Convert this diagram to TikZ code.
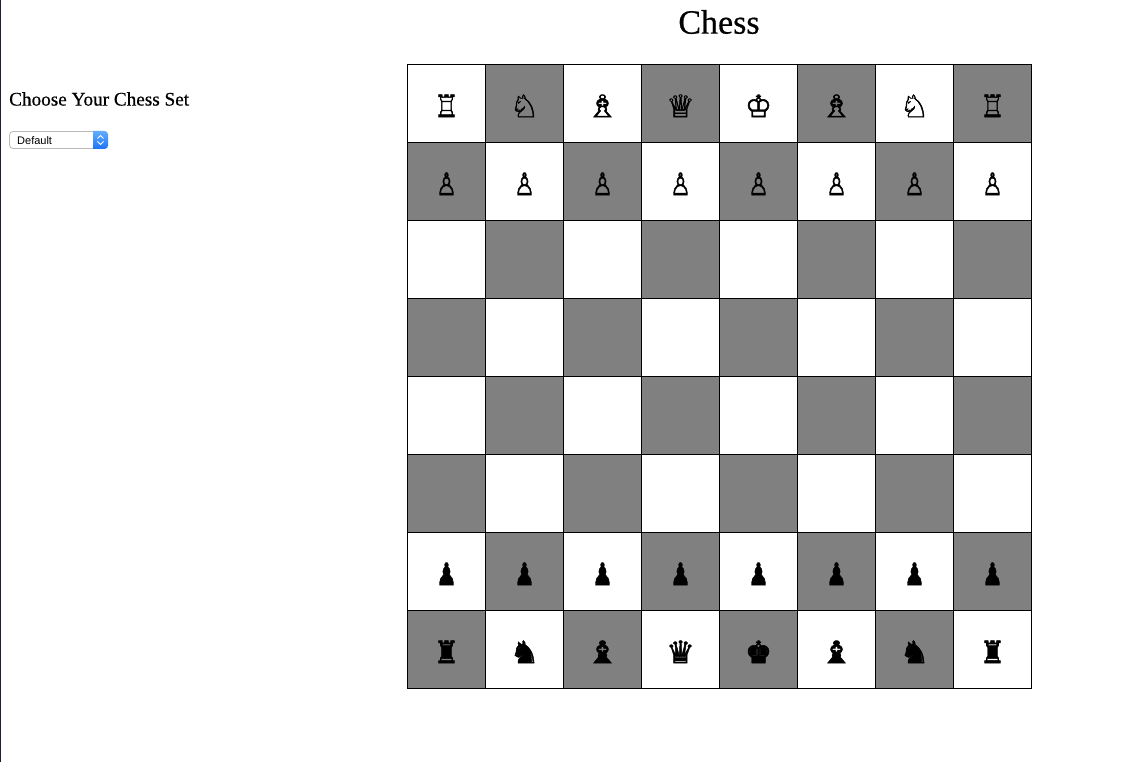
\documentclass[tikz,border=0pt]{standalone}
\usepackage{fontspec}
\usepackage{graphicx}
\setmainfont{Liberation Serif}
\newfontfamily\headfont[FakeBold=0.5]{Liberation Serif}
\newfontfamily\uifont{Liberation Sans}
\newfontfamily\chessfont[FakeBold=1.5]{DejaVu Sans}
\definecolor{boardgray}{HTML}{808080}
\definecolor{selbluetop}{HTML}{62ACFD}
\definecolor{selbluebot}{HTML}{1A74F6}
\definecolor{selborder}{HTML}{B9B9B9}
\definecolor{edgeline}{HTML}{1A2030}
\newcommand{\pc}[2]{\resizebox*{#1pt}{22.5pt}{#2}}
\newcommand{\WR}{\pc{25}{♖}}
\newcommand{\WN}{\pc{30}{♘}}
\newcommand{\WB}{\pc{34}{♗}}
\newcommand{\WQ}{\pc{29}{♕}}
\newcommand{\WK}{\pc{27}{♔}}
\newcommand{\WP}{\pc{21}{♙}}
\newcommand{\BR}{\pc{25}{♜}}
\newcommand{\BN}{\pc{30}{♞}}
\newcommand{\BB}{\pc{34}{♝}}
\newcommand{\BQ}{\pc{29}{♛}}
\newcommand{\BK}{\pc{27}{♚}}
\newcommand{\BP}{\pc{21}{♟}}
\tikzset{
  x=1pt,y=-1pt,
  cellbase/.style={draw=black,line width=1pt,minimum size=78pt,inner sep=0pt,outer sep=0pt,anchor=center},
  lightcell/.style={cellbase,fill=white},
  darkcell/.style={cellbase,fill=boardgray},
  piece/.style={font=\chessfont\fontsize{30}{30}\selectfont,text=black,inner sep=0pt,outer sep=0pt,anchor=center,yshift=-2.3pt},
}
\begin{document}
\begin{tikzpicture}
\useasboundingbox (0,0) rectangle (1133,762);
\fill[white] (0,0) rectangle (1133,762);
\draw[edgeline,line width=1pt] (0.5,0) -- (0.5,762);
\node[font=\headfont\fontsize{34}{34}\selectfont,inner sep=0pt] (title) at (719,22) {Chess};
\node[font=\headfont\fontsize{19.2}{19.2}\selectfont,inner sep=0pt,anchor=west] (heading) at (9,99) {Choose Your Chess Set};
\foreach \r in {0,...,7}{
  \foreach \c in {0,...,7}{
    \pgfmathtruncatemacro{\parity}{mod(\r+\c,2)}
    \ifnum\parity=0 \def\st{lightcell}\else \def\st{darkcell}\fi
    \node[\st] (cell\r\c) at (446.5+78*\c,103.5+78*\r) {};
  }
}
\foreach \r/\pcs in {0/{\WR,\WN,\WB,\WQ,\WK,\WB,\WN,\WR},1/{\WP,\WP,\WP,\WP,\WP,\WP,\WP,\WP},6/{\BP,\BP,\BP,\BP,\BP,\BP,\BP,\BP},7/{\BR,\BN,\BB,\BQ,\BK,\BB,\BN,\BR}}{
  \foreach \g [count=\c from 0] in \pcs {
    \node[piece] (piece\r\c) at (cell\r\c.center) {\g};
  }
}
% select control
\draw[selborder,fill=white,rounded corners=3.5pt,line width=0.8pt] (9.5,131.5) rectangle (107.5,148.5);
\shade[top color=selbluetop,bottom color=selbluebot] (93,131) [rounded corners=3.5pt] -- (108,131) -- (108,149) [sharp corners] -- (93,149) -- cycle;
\draw[white,line width=1pt] (97.5,138.5) -- (100.5,135.5) -- (103.5,138.5);
\draw[white,line width=1pt] (97.5,141.5) -- (100.5,144.5) -- (103.5,141.5);
\node[font=\uifont\fontsize{11}{11}\selectfont,inner sep=0pt,anchor=west] (select) at (17,140.5) {Default};
\end{tikzpicture}
\end{document}
